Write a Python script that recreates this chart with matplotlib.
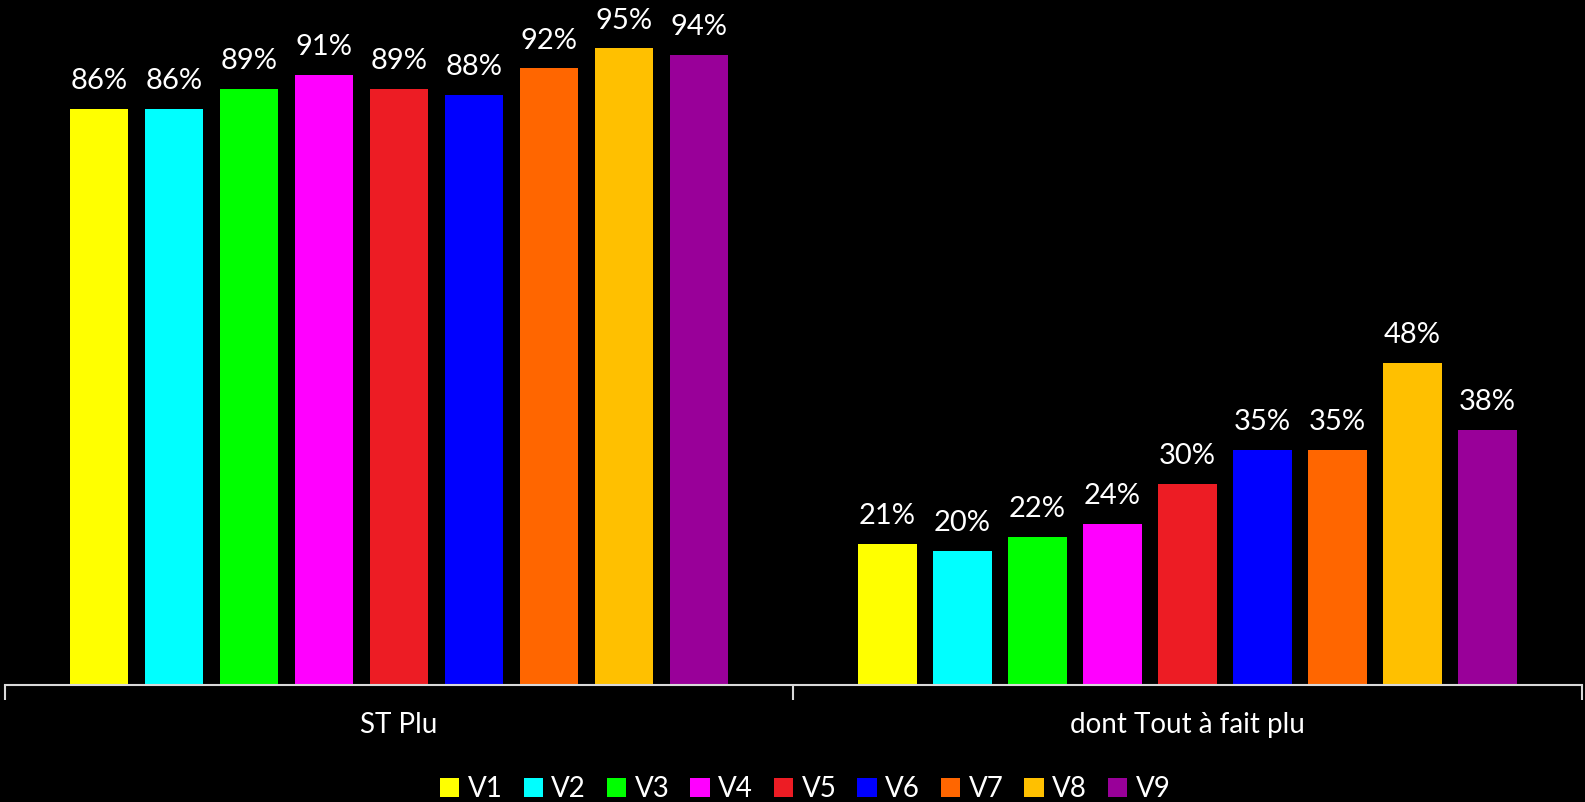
import numpy as np
import matplotlib
matplotlib.use('Agg')
import matplotlib.pyplot as plt
from matplotlib.patches import Patch

plt.rcParams['font.family'] = ['Lato', 'DejaVu Sans']

# data
categories = ['ST Plu', 'dont Tout à fait plu']
series = ['V1', 'V2', 'V3', 'V4', 'V5', 'V6', 'V7', 'V8', 'V9']
values = {
    'V1': [86, 21],
    'V2': [86, 20],
    'V3': [89, 22],
    'V4': [91, 24],
    'V5': [89, 30],
    'V6': [88, 35],
    'V7': [92, 35],
    'V8': [95, 48],
    'V9': [94, 38],
}
colors = ['#FFFF00', '#00FFFF', '#00FF00', '#FF00FF', '#ED1C24',
          '#0000FF', '#FF6600', '#FFC000', '#990099']

fig = plt.figure(figsize=(15.85, 8.02), dpi=100, facecolor='black')
ax = fig.add_axes([0.003, 0.1465, 0.995, 0.835], facecolor='black')

x = np.arange(len(categories))
slot = 0.0951
width = 0.0744
for i, s in enumerate(series):
    pos = x + (i - 4) * slot
    bars = ax.bar(pos, values[s], width, color=colors[i], label=s, zorder=2)
    for b, v in zip(bars, values[s]):
        ax.text(b.get_x() + b.get_width() / 2, v + 2.2, f'{v}%',
                ha='center', va='bottom', color='white', fontsize=21)

ax.set_xlim(-0.5, 1.5)
ax.set_ylim(0, 100)
ax.set_yticks([])
for sp in ['top', 'right', 'left']:
    ax.spines[sp].set_visible(False)
ax.spines['bottom'].set_color('#d9d9d9')
ax.spines['bottom'].set_linewidth(1.5)

ax.set_xticks(x)
ax.set_xticklabels(categories, color='white', fontsize=20)
ax.tick_params(axis='x', which='major', length=0, pad=20)
ax.set_xticks([-0.5, 0.5, 1.5], minor=True)
ax.tick_params(axis='x', which='minor', length=11, width=1.5, color='#d9d9d9')

handles = [Patch(facecolor=c, label=s) for s, c in zip(series, colors)]
leg = fig.legend(handles=handles, loc='center', bbox_to_anchor=(0.508, 0.016),
                 ncol=9, frameon=False, fontsize=20, handlelength=0.7,
                 handleheight=0.7, handletextpad=0.3, columnspacing=0.75)
for t in leg.get_texts():
    t.set_color('white')

fig.savefig('out.png', dpi=100, facecolor='black')
